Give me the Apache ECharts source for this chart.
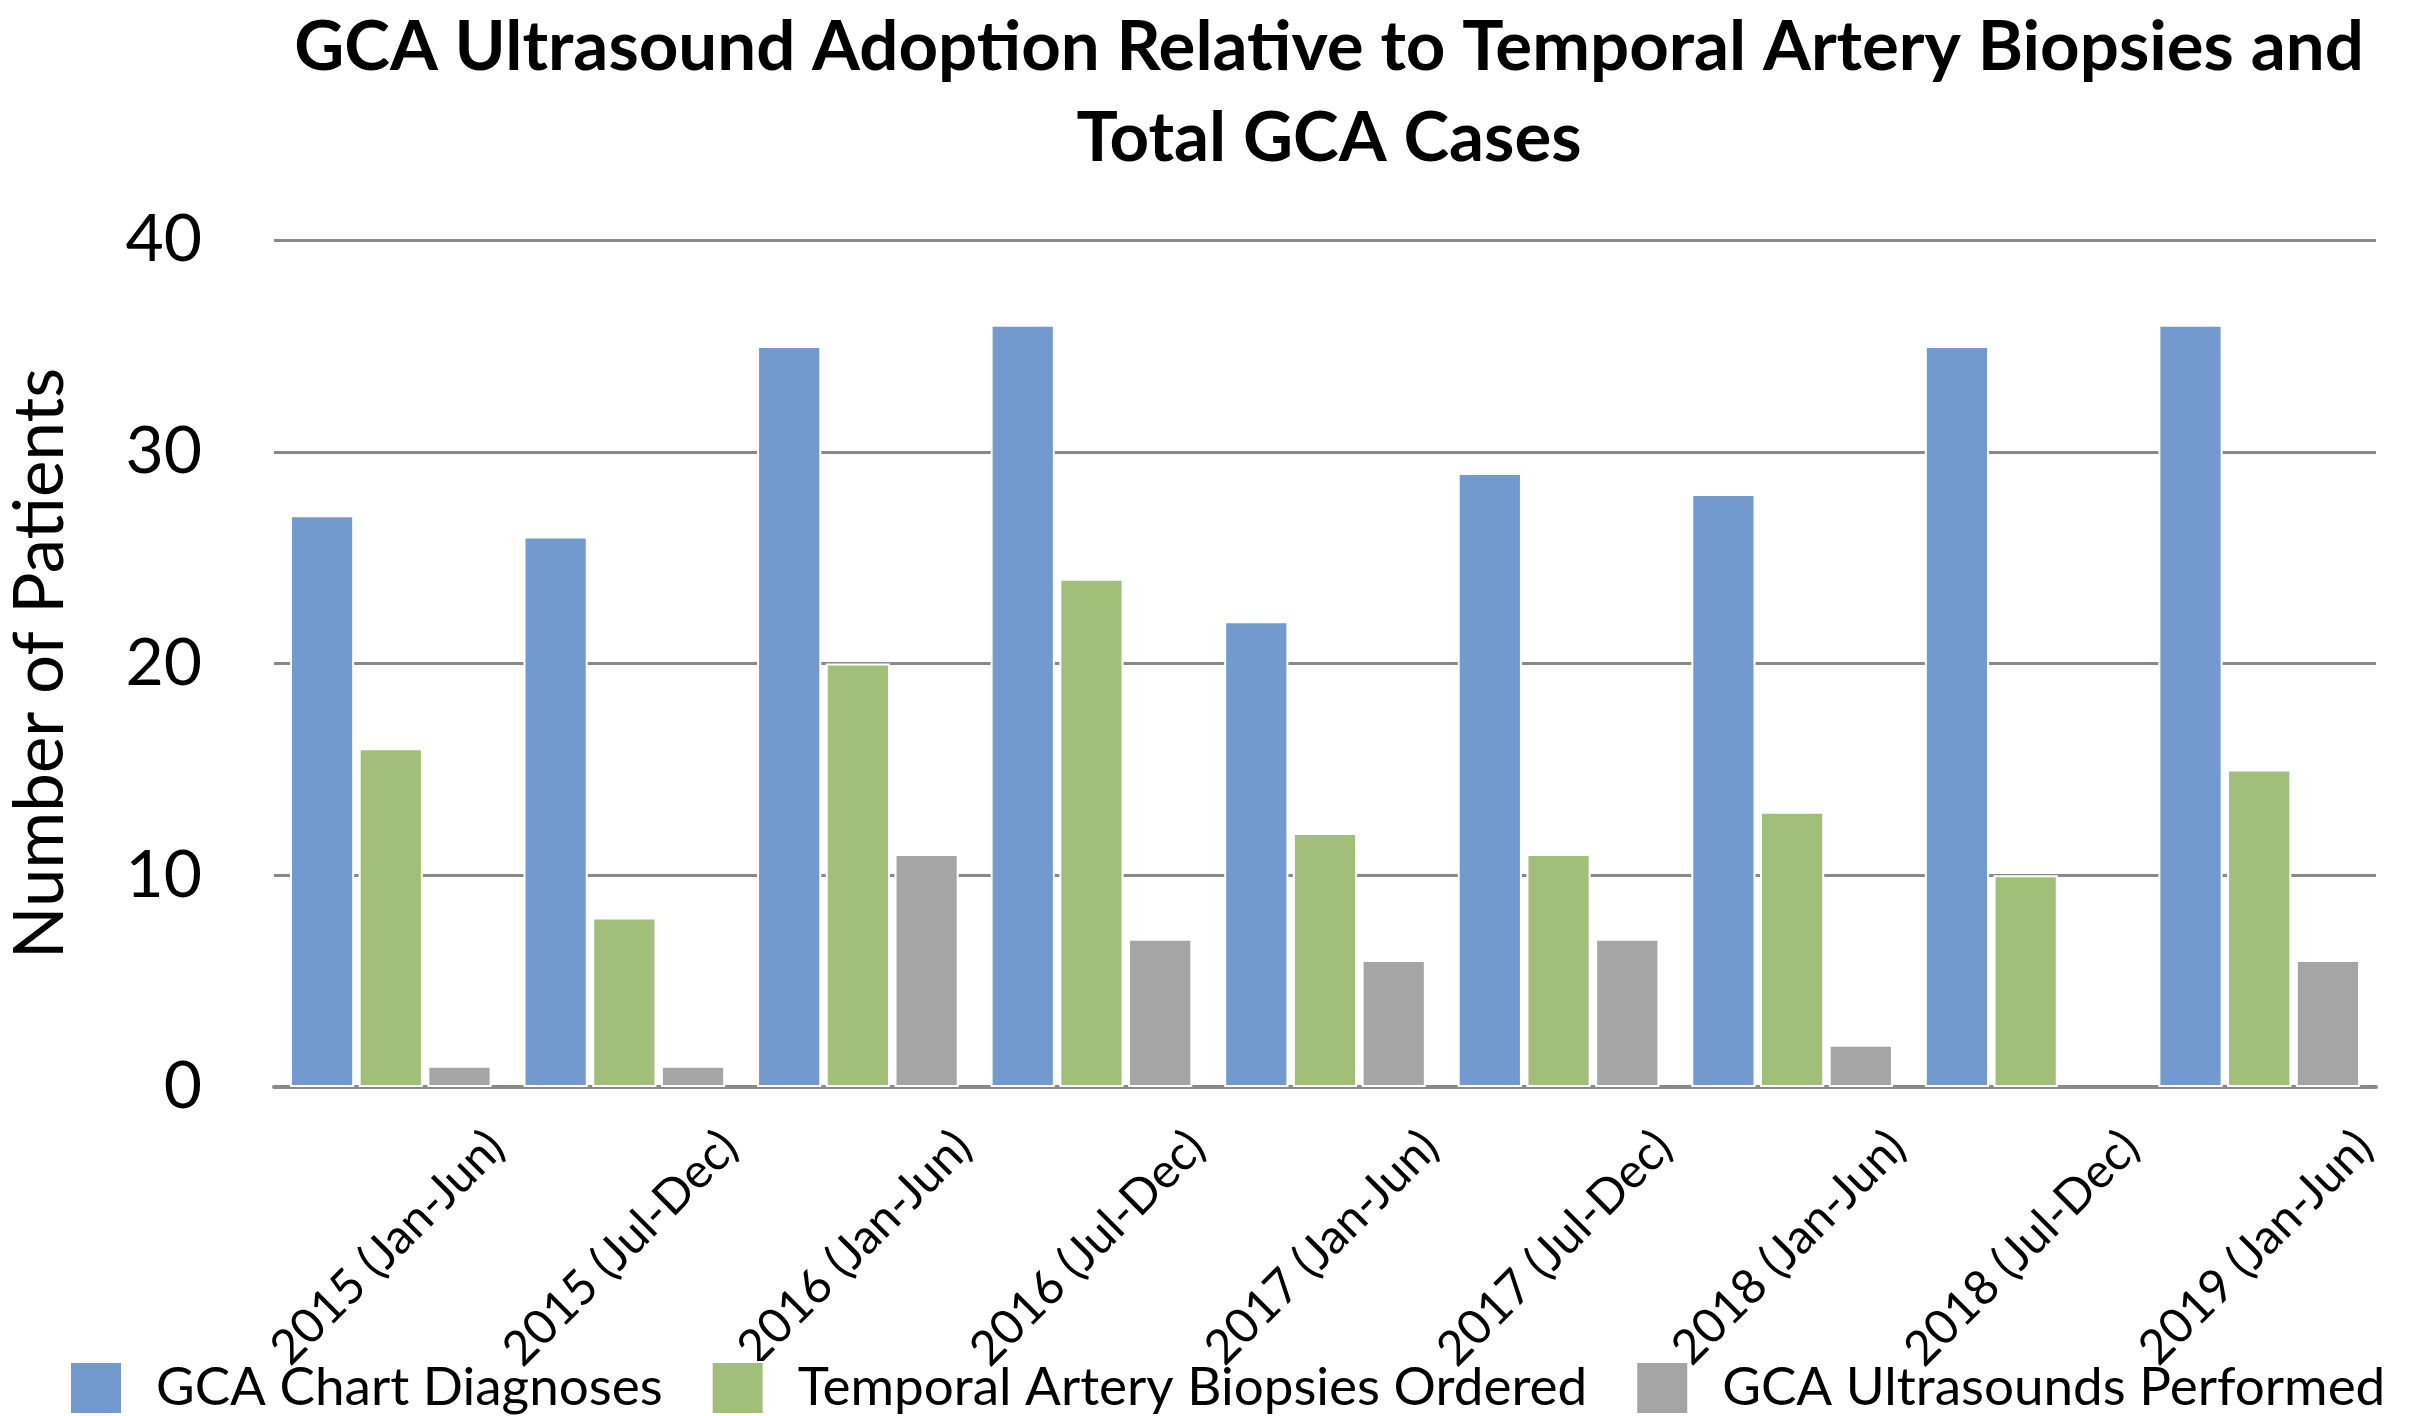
<!DOCTYPE html>
<html>
<head>
<meta charset="utf-8">
<script src="https://cdn.jsdelivr.net/npm/echarts@6/dist/echarts.min.js"></script>
<style>html,body{margin:0;padding:0;background:#fff}#c{width:2427px;height:1416px}</style>
</head>
<body>
<div id="c"></div>
<script>
const categories = ['2015 (Jan-Jun)','2015 (Jul-Dec)','2016 (Jan-Jun)','2016 (Jul-Dec)','2017 (Jan-Jun)','2017 (Jul-Dec)','2018 (Jan-Jun)','2018 (Jul-Dec)','2019 (Jan-Jun)'];
const chartDiagnoses = [27,26,35,36,22,29,28,35,36];
const biopsiesOrdered = [16,8,20,24,12,11,13,10,15];
const ultrasoundsPerformed = [1,1,11,7,6,7,2,0,6];
const yTicks = [0,10,20,30,40];

const chart = echarts.init(document.getElementById('c'));
const barStyle = (color) => ({color: color, borderColor: '#ffffff', borderWidth: 2});
const toItems = (arr) => arr.map(v => v === 0 ? {value: v, itemStyle: {borderWidth: 0}} : v);
chart.setOption({
  animation: false,
  backgroundColor: '#ffffff',
  title: {
    text: 'GCA Ultrasound Adoption Relative to Temporal Artery Biopsies and\nTotal GCA Cases',
    left: 1324, top: -3, textAlign: 'center',
    textStyle: {fontFamily: 'Lato', fontWeight: 'bold', fontSize: 69, lineHeight: 91, color: '#000'}
  },
  legend: {
    bottom: -4, left: 64,
    icon: 'rect', itemWidth: 52, itemHeight: 52, itemGap: 48,
    textStyle: {fontFamily: 'Lato', fontSize: 53, color: '#000', padding: [0,0,0,29]},
    data: ['GCA Chart Diagnoses','Temporal Artery Biopsies Ordered','GCA Ultrasounds Performed']
  },
  grid: {left: 274, right: 51, top: 240, bottom: 329, containLabel: false, outerBoundsMode: 'none'},
  xAxis: {
    type: 'category', data: categories,
    axisLine: {lineStyle: {color: '#898989', width: 4}},
    axisTick: {show: false},
    axisLabel: {
      rotate: 45, interval: 0, margin: -53, color: '#000',
      fontFamily: 'Lato', fontSize: 48,
      verticalAlign: 'top', lineHeight: 298
    }
  },
  yAxis: {
    type: 'value', min: yTicks[0], max: yTicks[yTicks.length-1], interval: 10,
    name: 'Number of Patients', nameLocation: 'middle', nameGap: 199, nameRotate: 90,
    nameTextStyle: {fontFamily: 'Lato', fontSize: 69, color: '#000'},
    axisLine: {show: false}, axisTick: {show: false},
    axisLabel: {fontFamily: 'Lato', fontSize: 66, color: '#000', margin: 72},
    splitLine: {lineStyle: {color: '#898989', width: 3}}
  },
  series: [
    {name: 'GCA Chart Diagnoses', type: 'bar', data: toItems(chartDiagnoses), barWidth: '27.5%', barGap: '7%', itemStyle: barStyle('#729acf')},
    {name: 'Temporal Artery Biopsies Ordered', type: 'bar', data: toItems(biopsiesOrdered), barWidth: '27.5%', barGap: '7%', itemStyle: barStyle('#a2bf7a')},
    {name: 'GCA Ultrasounds Performed', type: 'bar', data: toItems(ultrasoundsPerformed), barWidth: '27.5%', barGap: '7%', itemStyle: barStyle('#a5a5a5')}
  ]
});
</script>
</body>
</html>
